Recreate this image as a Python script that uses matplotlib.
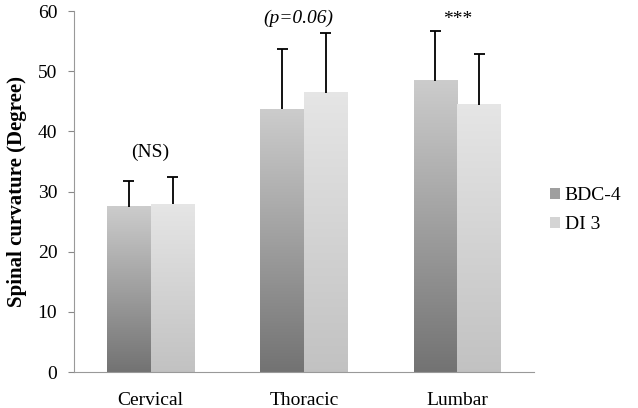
import numpy as np
import matplotlib
matplotlib.use('Agg')
import matplotlib.pyplot as plt
from matplotlib.patches import Patch

# Data
categories = ['Cervical', 'Thoracic', 'Lumbar']
series_names = ['BDC-4', 'DI 3']
bdc4_mean = [27.5, 43.7, 48.4]
bdc4_err = [4.3, 10.0, 8.3]
di3_mean = [27.9, 46.4, 44.4]
di3_err = [4.6, 9.9, 8.4]
annotations = ['(NS)', '(p=0.06)', '***']
annot_y = [36.5, 58.8, 58.6]

plt.rcParams['font.family'] = ['Liberation Serif', 'DejaVu Serif']

fig = plt.figure(figsize=(6.38, 4.08), dpi=100)
ax = fig.add_axes([0.116, 0.088, 0.721, 0.885])

width = 0.285
cap = 0.035
x = np.arange(len(categories))

# gradient colours (bottom, top) per series
grads = [((0.45, 0.45, 0.45), (0.80, 0.80, 0.80)),
         ((0.76, 0.76, 0.76), (0.90, 0.90, 0.90))]

def grad_bar(xc, h, cols):
    bottom, top = np.array(cols[0]), np.array(cols[1])
    t = np.linspace(0, 1, 128)[:, None]
    img = bottom[None, :] * (1 - t) + top[None, :] * t
    img = img[:, None, :]
    ax.imshow(img, extent=(xc - width / 2, xc + width / 2, 0, h),
              origin='lower', aspect='auto', zorder=2, interpolation='bilinear')

for i, (means, errs) in enumerate([(bdc4_mean, bdc4_err), (di3_mean, di3_err)]):
    xs = x + (i - 0.5) * width
    for xc, m in zip(xs, means):
        grad_bar(xc, m, grads[i])
    tops = np.array(means) + np.array(errs)
    ax.vlines(xs, means, tops, color='black', lw=1.3, zorder=3)
    ax.hlines(tops, xs - cap, xs + cap, color='black', lw=1.3, zorder=3)

for i, txt in enumerate(annotations):
    style = 'italic' if txt.startswith('(p') else 'normal'
    ax.text(x[i] - (0.04 if style == 'italic' else 0), annot_y[i], txt, ha='center', va='center',
            fontsize=14, fontstyle=style)

ax.set_xlim(-0.5, 2.5)
ax.set_ylim(0, 60)
ax.set_yticks(range(0, 61, 10))
ax.set_xticks(x)
ax.set_xticklabels(categories)
ax.tick_params(axis='x', length=0, pad=14, labelsize=14)
ax.tick_params(axis='y', length=4, color='#888888', labelsize=14, pad=8)
ax.set_ylabel('Spinal curvature (Degree)', fontsize=15, fontweight='bold', labelpad=8)

for s in ['top', 'right']:
    ax.spines[s].set_visible(False)
ax.spines['left'].set_color('#999999')
ax.spines['bottom'].set_color('#999999')

handles = [Patch(facecolor=tuple(np.mean(g, axis=0)), edgecolor='none') for g in grads]
fig.legend(handles, series_names, loc='center left', bbox_to_anchor=(0.835, 0.485),
           frameon=False, fontsize=14, handlelength=0.5, handleheight=0.5,
           handletextpad=0.25, labelspacing=0.6)

fig.savefig('out.png', dpi=100)
